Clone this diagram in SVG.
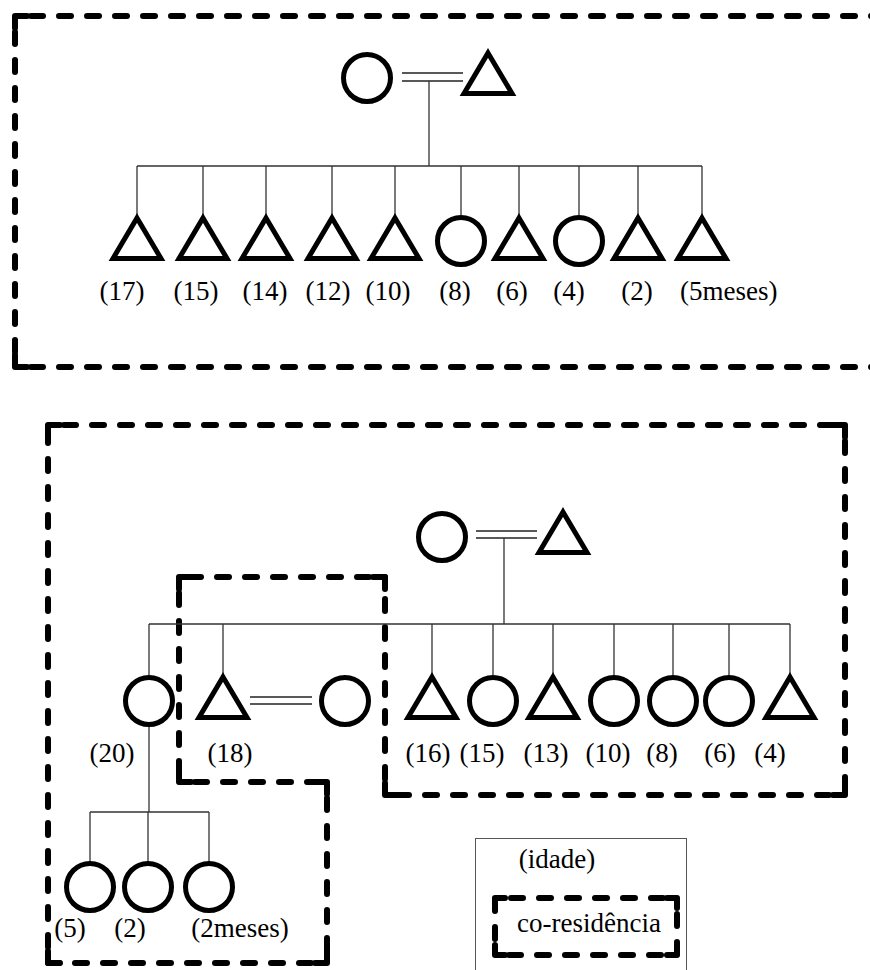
<svg xmlns="http://www.w3.org/2000/svg" width="870" height="970" viewBox="0 0 870 970">
<style>
.bg{fill:#fff}
.c{fill:none;stroke:#000;stroke-width:5}
.t{fill:none;stroke:#000;stroke-width:5;stroke-linejoin:miter}
.ln{fill:none;stroke:#333;stroke-width:1.3}
.dl{fill:none;stroke:#222;stroke-width:1.5}
.dash{fill:none;stroke:#000;stroke-width:6;stroke-dasharray:12 16;stroke-dashoffset:-16;stroke-linecap:round;stroke-linejoin:round}
.corner{fill:none;stroke:#000;stroke-width:6;stroke-linecap:round;stroke-linejoin:round}
.lab{font-family:"Liberation Serif","Times New Roman",serif;font-size:27px;fill:#000;text-anchor:middle}
.legend{fill:none;stroke:#555;stroke-width:1}
</style>
<defs>
<path id="tri" d="M0,-20 L24,20.5 L-24,20.5 Z"/>
</defs>
<rect class="bg" width="870" height="970"/>

<!-- co-residence boundaries -->
<g id="boundaries">
<path class="dash" d="M15,16 L880,16"/>
<path class="dash" d="M15,16 L15,367"/>
<path class="dash" d="M15,367 L880,367"/>
<path class="corner" d="M15,28 V16 H27 M15,355 V367 H27"/>
<path class="dash" d="M48,425 H845 M845,425 V795 M845,795 H385 M385,795 V577 M385,577 H179 M179,577 V782 M179,782 H327 M327,782 V963 M327,963 H48 M48,963 V425"/>
<path class="corner" d="M48,437 V425 H60 M833,425 H845 V437 M845,783 V795 H833 M397,795 H385 V783 M385,589 V577 H373 M191,577 H179 V589 M179,770 V782 H191 M315,782 H327 V794 M327,951 V963 H315 M60,963 H48 V951"/>
</g>

<!-- connectors -->
<g id="connectors">
<line class="dl" x1="402" y1="73" x2="463" y2="73"/>
<line class="dl" x1="402" y1="81" x2="463" y2="81"/>
<path class="ln" d="M429,81 V166 M137,166 H702 M137,166 V216 M203,166 V216 M266,166 V216 M332,166 V216 M395,166 V216 M461,166 V215 M519,166 V216 M579,166 V215 M638,166 V216 M702,166 V216"/>
<line class="dl" x1="476" y1="531" x2="537" y2="531"/>
<line class="dl" x1="476" y1="538" x2="537" y2="538"/>
<path class="ln" d="M504,538 V624 M149,624 H790 M149,624 V675 M223,624 V675 M432,624 V675 M493,624 V675 M553,624 V675 M614,624 V675 M673,624 V675 M729,624 V675 M790,624 V675"/>
<line class="dl" x1="250" y1="697" x2="312" y2="697"/>
<line class="dl" x1="250" y1="704" x2="312" y2="704"/>
<path class="ln" d="M149,727 V812 M90,812 H209 M90,812 V862 M148,812 V862 M209,812 V862"/>
</g>

<!-- top family -->
<g id="top-mother"><circle class="c" cx="367" cy="78" r="23.5"/></g>
<g id="top-father"><use href="#tri" class="t" x="488" y="73"/></g>
<g id="top-c1"><use href="#tri" class="t" x="137" y="238"/><text class="lab" x="122" y="300">(17)</text></g>
<g id="top-c2"><use href="#tri" class="t" x="203" y="238"/><text class="lab" x="196" y="300">(15)</text></g>
<g id="top-c3"><use href="#tri" class="t" x="266" y="238"/><text class="lab" x="265" y="300">(14)</text></g>
<g id="top-c4"><use href="#tri" class="t" x="332" y="238"/><text class="lab" x="328" y="300">(12)</text></g>
<g id="top-c5"><use href="#tri" class="t" x="395" y="238"/><text class="lab" x="388" y="300">(10)</text></g>
<g id="top-c6"><circle class="c" cx="461" cy="241" r="23.5"/><text class="lab" x="455" y="300">(8)</text></g>
<g id="top-c7"><use href="#tri" class="t" x="519" y="238"/><text class="lab" x="512" y="300">(6)</text></g>
<g id="top-c8"><circle class="c" cx="579" cy="241" r="23.5"/><text class="lab" x="569" y="300">(4)</text></g>
<g id="top-c9"><use href="#tri" class="t" x="638" y="238"/><text class="lab" x="637" y="300">(2)</text></g>
<g id="top-c10"><use href="#tri" class="t" x="702" y="238"/><text class="lab" x="680" y="300" style="text-anchor:start">(5meses)</text></g>

<!-- bottom family -->
<g id="bot-mother"><circle class="c" cx="442" cy="537" r="23.5"/></g>
<g id="bot-father"><use href="#tri" class="t" x="563" y="532"/></g>
<g id="bot-c20"><circle class="c" cx="149" cy="701" r="23.5"/><text class="lab" x="112" y="762">(20)</text></g>
<g id="bot-c18"><use href="#tri" class="t" x="223" y="697"/><text class="lab" x="230" y="762">(18)</text></g>
<g id="bot-c18-spouse"><circle class="c" cx="345" cy="701" r="23.5"/></g>
<g id="bot-c16"><use href="#tri" class="t" x="432" y="697"/><text class="lab" x="428" y="762">(16)</text></g>
<g id="bot-c15"><circle class="c" cx="493" cy="701" r="23.5"/><text class="lab" x="482" y="762">(15)</text></g>
<g id="bot-c13"><use href="#tri" class="t" x="553" y="697"/><text class="lab" x="546" y="762">(13)</text></g>
<g id="bot-c10"><circle class="c" cx="614" cy="701" r="23.5"/><text class="lab" x="608" y="762">(10)</text></g>
<g id="bot-c8"><circle class="c" cx="673" cy="701" r="23.5"/><text class="lab" x="662" y="762">(8)</text></g>
<g id="bot-c6"><circle class="c" cx="729" cy="701" r="23.5"/><text class="lab" x="720" y="762">(6)</text></g>
<g id="bot-c4"><use href="#tri" class="t" x="790" y="697"/><text class="lab" x="770" y="762">(4)</text></g>
<g id="gc1"><circle class="c" cx="90" cy="887" r="23.5"/><text class="lab" x="70" y="937">(5)</text></g>
<g id="gc2"><circle class="c" cx="148" cy="887" r="23.5"/><text class="lab" x="130" y="937">(2)</text></g>
<g id="gc3"><circle class="c" cx="209" cy="887" r="23.5"/><text class="lab" x="240" y="937">(2meses)</text></g>

<!-- legend -->
<g id="legend">
<rect class="legend" x="475.5" y="838.5" width="211" height="140"/>
<text class="lab" x="557" y="868">(idade)</text>
<path class="dash" d="M495,898 H677 M677,898 V955 M677,955 H495 M495,955 V898"/>
<path class="corner" d="M495,908 V898 H505 M667,898 H677 V908 M677,945 V955 H667 M505,955 H495 V945"/>
<text class="lab" x="517" y="932" style="text-anchor:start">co-residência</text>
</g>
</svg>
